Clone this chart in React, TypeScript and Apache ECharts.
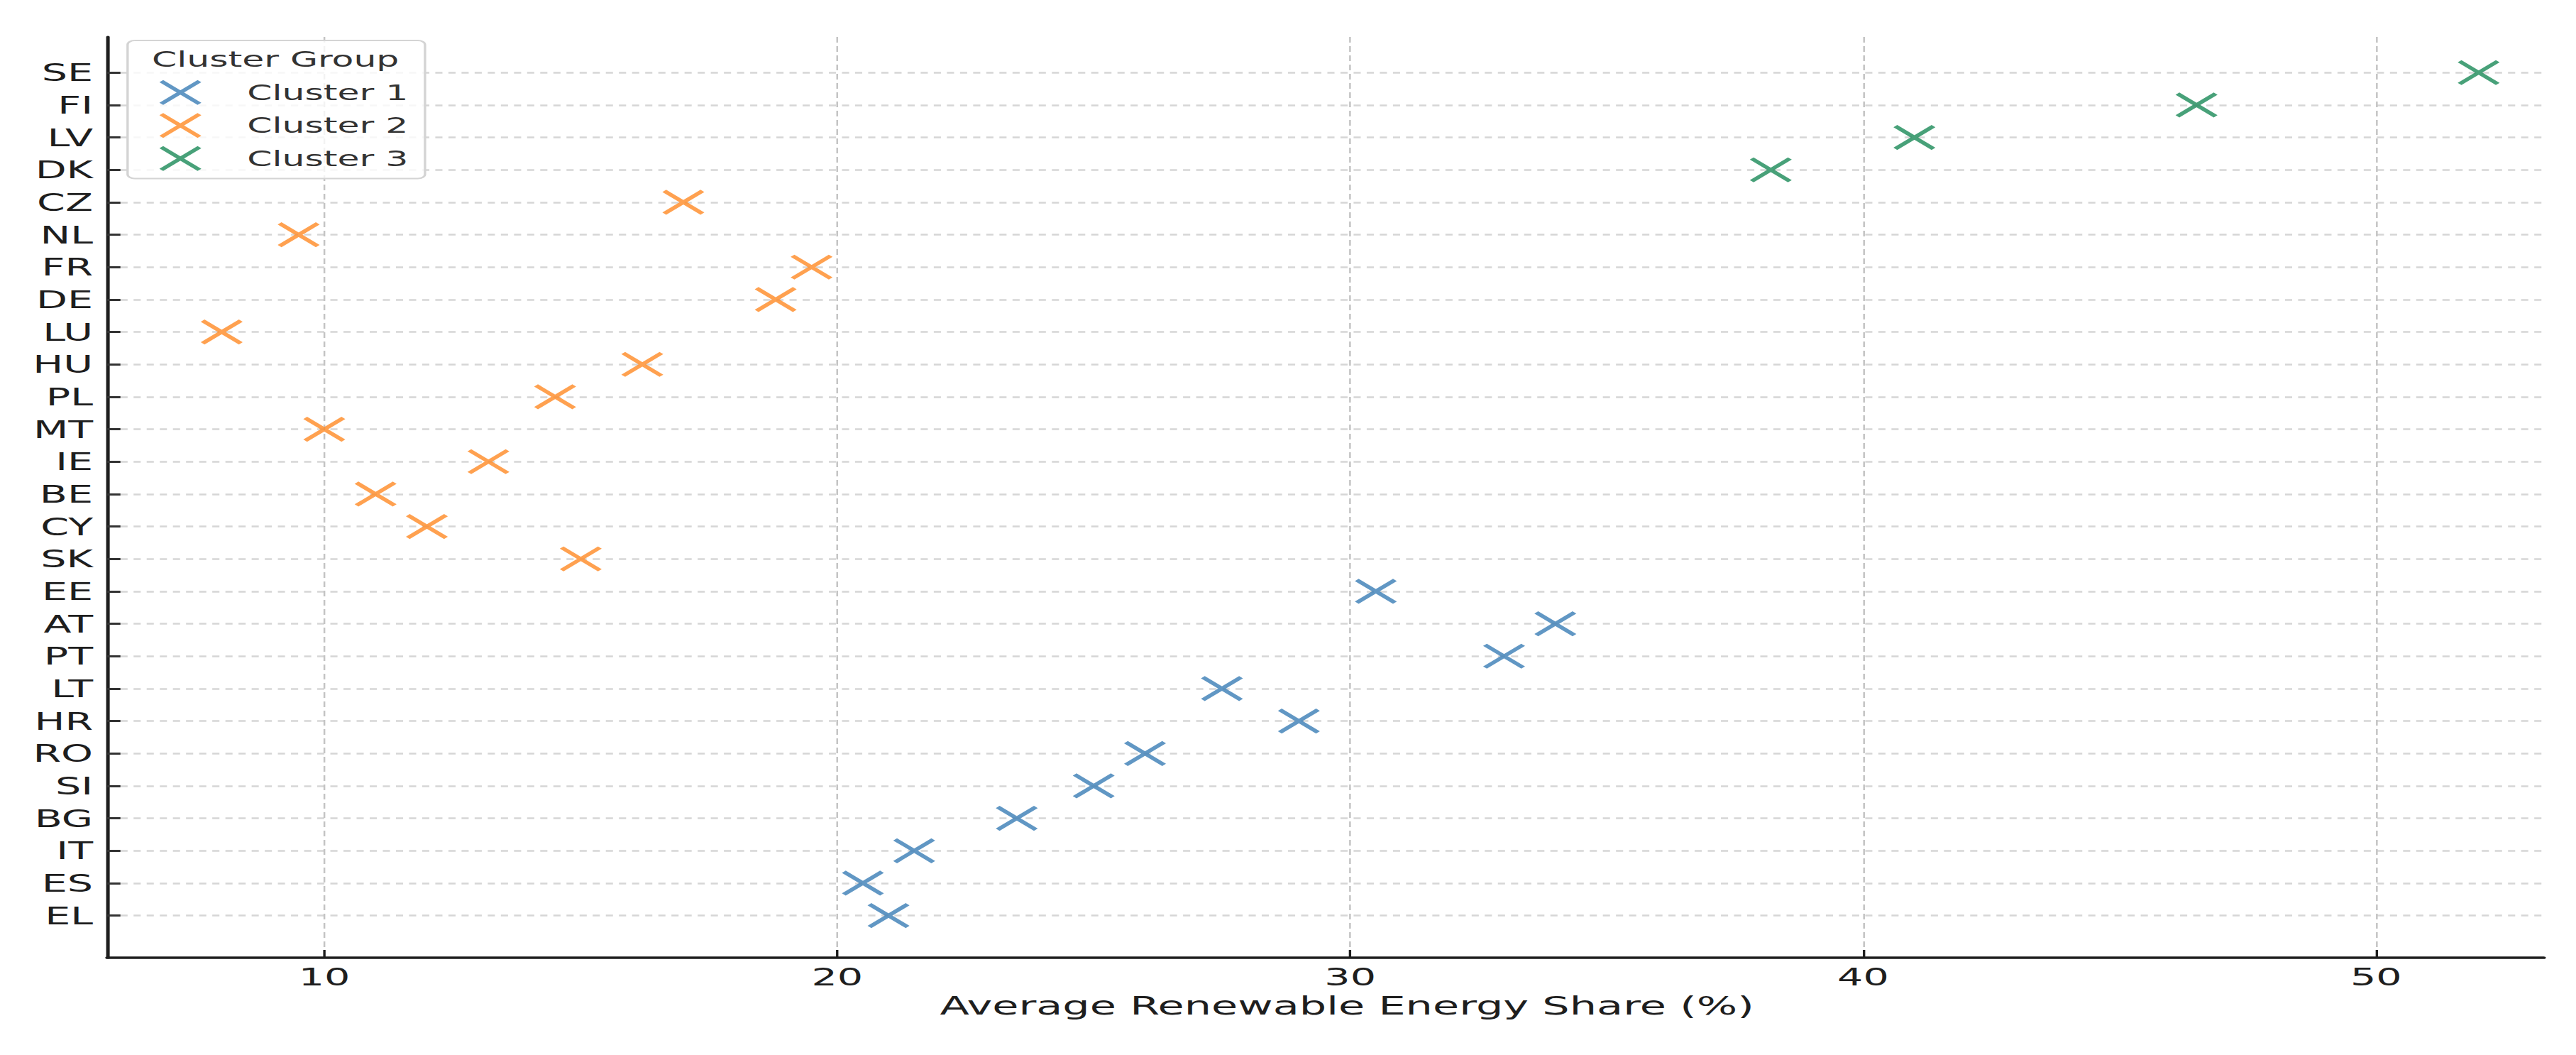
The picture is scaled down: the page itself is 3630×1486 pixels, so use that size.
import { useEffect, useRef } from 'react';
import * as echarts from 'echarts';

// countries from bottom (EL) to top (SE), as on the y axis
const countries = [
  'EL', 'ES', 'IT', 'BG', 'SI', 'RO', 'HR', 'LT', 'PT', 'AT', 'EE',
  'SK', 'CY', 'BE', 'IE', 'MT', 'PL', 'HU', 'LU', 'DE', 'FR', 'NL', 'CZ',
  'DK', 'LV', 'FI', 'SE',
];

const shares = [
  21.0, 20.5, 21.5, 23.5, 25.0, 26.0, 29.0, 27.5, 33.0, 34.0, 30.5,
  15.0, 12.0, 11.0, 13.2, 10.0, 14.5, 16.2, 8.0, 18.8, 19.5, 9.5, 17.0,
  38.2, 41.0, 46.5, 52.0,
];

const clusters = [
  1, 1, 1, 1, 1, 1, 1, 1, 1, 1, 1,
  2, 2, 2, 2, 2, 2, 2, 2, 2, 2, 2, 2,
  3, 3, 3, 3,
];

const clusterNames = ['Cluster 1', 'Cluster 2', 'Cluster 3'];
const clusterColors = ['#3a7db5', '#ff8a24', '#1a8a58'];
const xTicks = [10, 20, 30, 40, 50];

const CROSS = 'path://M0,0L10,10M10,0L0,10';

// the reference is stretched sideways; draw narrower and scale the box
const CHART_W = 2160;
const CHART_H = 1486;
const STRETCH = 3630 / CHART_W;

export default function App() {
  const chartRef = useRef<HTMLDivElement>(null);

  useEffect(() => {
    document.body.style.margin = '0';
    if (!chartRef.current) return;
    const chart = echarts.init(chartRef.current, null, { renderer: 'svg' });

    const indices = countries.map((_, i) => i);
    const font = 'DejaVu Sans';
    const ink = '#1e1e1e';

    const series = clusterNames.map((name, k) => ({
      name,
      type: 'scatter' as const,
      symbol: CROSS,
      symbolSize: 32,
      itemStyle: {
        color: clusterColors[k],
        borderColor: clusterColors[k],
        borderWidth: 4.5,
      },
      data: indices
        .filter((i) => clusters[i] === k + 1)
        .map((i) => [shares[i], i]),
    }));

    chart.setOption({
      animation: false,
      textStyle: { fontFamily: font },
      grid: { left: 90, right: 27, top: 52, bottom: 137 },
      xAxis: {
        type: 'value',
        min: 5.77,
        max: 53.27,
        name: 'Average Renewable Energy Share (%)',
        nameLocation: 'middle',
        nameGap: 50,
        nameTextStyle: { fontSize: 36, color: ink, fontFamily: font, padding: [0, 0, 0, 36] },
        axisLine: { show: true, onZero: false, lineStyle: { color: ink, width: 3.5 } },
        axisTick: { show: true, inside: true, length: 11, customValues: xTicks, lineStyle: { color: ink, width: 2 } },
        axisLabel: { customValues: xTicks, fontSize: 34, color: ink, margin: 10, fontFamily: font },
        splitLine: { show: true, lineStyle: { color: '#c4c4c4', width: 1.5, type: [8, 5] } },
      },
      yAxis: {
        type: 'value',
        min: -1.3,
        max: 27.1,
        axisLine: { show: true, onZero: false, lineStyle: { color: ink, width: 3 } },
        axisTick: { show: true, inside: true, length: 11, customValues: indices, lineStyle: { color: '#333', width: 3 } },
        axisLabel: {
          customValues: indices,
          fontSize: 34,
          color: ink,
          margin: 12,
          fontFamily: font,
          formatter: (v: number) => countries[Math.round(v)] ?? '',
        },
        splitLine: { show: true, lineStyle: { color: '#d6d6d6', width: 2.5, type: [6, 5] } },
      },
      legend: {
        orient: 'vertical',
        left: 107,
        top: 57,
        padding: [55, 14, 10, 26],
        itemGap: 10,
        itemWidth: 32,
        itemHeight: 32,
        backgroundColor: 'rgba(255,255,255,0.8)',
        borderColor: '#d4d4d4',
        borderWidth: 2,
        borderRadius: 6,
        itemStyle: { borderWidth: 4.5 },
        data: clusterNames.map((name, k) => ({
          name,
          icon: CROSS,
          itemStyle: { color: clusterColors[k], borderColor: clusterColors[k], borderWidth: 4.5 },
        })),
        textStyle: { fontSize: 30, color: '#333', fontFamily: font, padding: [0, 0, 0, 35] },
      },
      graphic: [
        {
          type: 'text',
          z: 100,
          style: {
            text: 'Cluster Group',
            x: 231,
            y: 84,
            align: 'center',
            verticalAlign: 'middle',
            fontSize: 30,
            fontFamily: font,
            fill: '#333',
          },
        },
      ],
      series,
    });

    return () => chart.dispose();
  }, []);

  return (
    <div style={{ width: 3630, height: CHART_H, overflow: 'hidden', background: '#fff' }}>
      <div
        ref={chartRef}
        style={{
          width: CHART_W,
          height: CHART_H,
          transform: `scaleX(${STRETCH})`,
          transformOrigin: '0 0',
        }}
      />
    </div>
  );
}
